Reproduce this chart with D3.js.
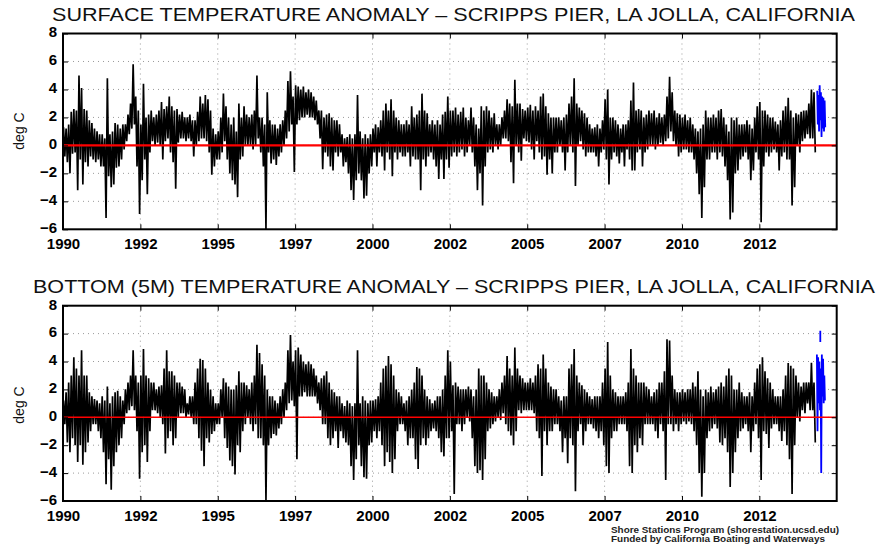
<!DOCTYPE html>
<html>
<head>
<meta charset="utf-8">
<script src="https://cdn.jsdelivr.net/npm/d3@7"></script>
<style>
  html, body { margin: 0; padding: 0; background: #fff; }
  svg { display: block; font-family: "Liberation Sans", Arial, Helvetica, sans-serif; }
</style>
</head>
<body>
<svg id="chart" width="881" height="545"></svg>
<script>
// ---------------- DATA ----------------
const startYear = 1990;
const xDomain = [1990, 2015];
const yDomain = [-6, 8];
const xTickValues = [1990, 1992.5, 1995, 1997.5, 2000, 2002.5, 2005, 2007.5, 2010, 2012.5];
const xTickLabels = ["1990", "1992", "1995", "1997", "2000", "2002", "2005", "2007", "2010", "2012"];
const yTickValues = [-6, -4, -2, 0, 2, 4, 6, 8];

// Surface anomaly: monthly upper / lower extent of daily values (deg C), Jan 1990 .. Apr 2014
const surfHi = [
  [1.3, 1.2, 1.5, 2.4, 2.6, 2.5, 5.0, 4.1, 2.6, 2.5, 1.8, 1.6],
  [1.2, 1.0, 0.8, 0.8, 0.5, 4.8, 0.8, 1.0, 1.6, 1.5, 1.2, 1.5],
  [1.5, 2.2, 3.0, 5.8, 3.5, 2.5, 1.5, 4.4, 2.0, 2.2, 2.5, 2.0],
  [2.2, 2.5, 3.1, 2.6, 2.8, 3.5, 2.8, 2.5, 2.6, 2.2, 2.4, 2.0],
  [2.0, 2.2, 1.8, 1.8, 2.4, 3.5, 3.0, 3.6, 3.3, 2.5, 1.2, 0.8],
  [1.0, 2.0, 3.7, 2.8, 2.0, 1.5, 2.0, 1.0, 3.0, 2.0, 2.8, 2.2],
  [2.0, 2.2, 2.5, 5.0, 2.0, 2.0, 1.5, 3.8, 1.8, 1.5, 1.5, 1.2],
  [1.5, 1.8, 2.5, 4.6, 5.3, 3.5, 4.3, 4.2, 4.0, 4.2, 3.8, 4.0],
  [3.8, 3.5, 3.2, 2.5, 2.5, 2.0, 2.2, 2.3, 2.0, 1.8, 1.8, 1.5],
  [0.8, 0.5, 0.6, 0.8, 0.5, 0.8, 3.6, 1.0, 0.5, 0.8, 0.5, 0.8],
  [1.2, 1.5, 1.3, 1.8, 2.5, 3.0, 2.5, 3.3, 2.5, 2.0, 1.8, 1.5],
  [1.5, 1.8, 1.5, 2.8, 2.0, 2.2, 2.5, 3.7, 2.5, 2.3, 1.5, 1.8],
  [1.5, 1.8, 1.5, 2.2, 2.4, 3.5, 2.5, 2.5, 2.7, 2.2, 2.4, 2.7],
  [2.0, 1.8, 2.7, 2.0, 1.5, 1.2, 2.8, 2.5, 2.8, 2.5, 2.0, 2.3],
  [1.5, 1.5, 2.0, 2.5, 3.3, 3.0, 2.8, 4.7, 3.0, 3.0, 2.6, 2.5],
  [2.7, 2.9, 2.5, 2.8, 2.5, 3.5, 3.7, 2.8, 2.3, 2.0, 2.0, 2.0],
  [2.0, 1.8, 2.0, 2.2, 3.0, 3.5, 4.8, 3.0, 2.7, 2.5, 2.3, 2.0],
  [1.5, 1.2, 1.3, 1.5, 1.2, 1.8, 3.3, 4.0, 2.0, 2.0, 1.8, 1.5],
  [1.2, 1.5, 1.5, 1.8, 3.2, 4.5, 2.5, 2.6, 2.5, 2.0, 2.2, 2.5],
  [2.3, 2.5, 2.0, 2.3, 2.0, 2.2, 3.5, 4.9, 3.8, 2.5, 2.3, 2.2],
  [2.0, 2.2, 1.8, 2.0, 1.5, 1.2, 1.0, 1.2, 1.5, 2.5, 2.0, 2.0],
  [2.2, 2.0, 2.5, 2.6, 2.0, 1.5, 1.0, 2.0, 1.8, 2.0, 1.5, 1.5],
  [1.5, 1.8, 1.5, 1.2, 2.0, 2.8, 3.1, 2.5, 2.5, 2.2, 2.0, 2.0],
  [1.7, 1.5, 1.8, 2.5, 2.8, 3.4, 2.5, 2.0, 2.3, 2.2, 2.4, 2.5],
  [2.5, 3.0, 4.0, 3.8]
];
const surfLo = [
  [-0.8, -1.2, -2.0, -0.6, -0.5, -3.2, -1.0, -2.8, -1.2, -1.5, -0.8, -1.0],
  [-1.2, -1.0, -1.5, -1.5, -5.2, -2.2, -3.0, -2.8, -1.6, -1.5, -1.0, -0.3],
  [0.3, 0.8, 1.2, 1.5, -1.5, -4.9, -2.5, -1.0, -3.5, -0.5, 0.3, 0.0],
  [0.2, 0.0, -1.0, 0.3, 0.5, -0.5, -1.2, -3.1, 0.2, 0.5, 0.5, 0.3],
  [0.5, 0.3, -0.8, 0.0, 0.3, 0.5, 0.5, 0.3, -0.5, -2.1, -1.5, -1.0],
  [-1.0, -0.5, 0.3, -1.0, -2.0, -2.5, -2.8, -3.7, -1.0, -0.8, 0.0, 0.0],
  [0.0, -0.3, 0.0, 0.5, -0.5, -1.5, -6.0, -0.5, -1.3, -1.0, -1.4, -0.8],
  [-0.5, 0.0, 0.5, 1.0, 1.5, -1.9, 1.5, 1.8, 2.0, 2.0, 2.2, 2.0],
  [2.0, 1.8, 1.5, 0.5, -1.7, -0.5, -0.8, -1.5, -1.8, -0.5, -0.8, -0.5],
  [-1.5, -1.2, -2.0, -3.2, -3.9, -2.5, -2.0, -2.5, -3.8, -3.6, -2.0, -1.5],
  [-0.5, -1.5, -0.5, -0.8, -1.8, -0.5, -1.0, -2.2, -0.5, -1.0, -0.5, -0.8],
  [-0.8, -0.5, -1.5, -0.8, -1.0, -1.0, -3.2, -1.0, -1.5, -0.8, -0.5, -1.0],
  [-1.5, -2.4, -1.0, -2.4, -1.0, -1.6, -0.8, -0.5, -0.8, -0.5, -0.3, -0.8],
  [-0.5, 0.0, -0.5, -1.5, -3.2, -2.0, -4.3, -1.5, -0.5, -0.3, -0.5, 0.0],
  [-0.3, 0.0, 0.5, 0.5, 0.3, -1.2, -2.7, 0.0, -0.5, -1.1, 0.5, 0.3],
  [0.2, -0.3, -1.0, 0.3, -0.5, -1.0, -0.8, -2.1, -1.0, -2.0, -0.5, -0.5],
  [0.0, -0.5, -1.8, -0.5, 0.0, -0.5, -2.9, 0.0, 0.3, -0.3, -0.8, -0.5],
  [-0.5, -0.5, -0.8, -1.5, -0.5, -0.3, -1.0, -2.8, -1.0, -0.5, -0.8, -1.3],
  [-0.5, -1.5, -0.3, -1.0, -1.8, -1.8, -0.5, -0.3, -1.5, -0.5, -0.3, 0.0],
  [0.0, -0.3, 0.0, 0.2, 0.0, 0.3, 0.5, 1.0, 0.3, 0.0, -0.8, -0.5],
  [-0.3, -0.3, -0.5, -0.5, -1.0, -2.0, -3.5, -5.2, -3.0, -1.0, -1.0, -0.5],
  [-0.5, -1.0, -0.5, -0.8, -1.5, -2.5, -5.3, -4.8, -2.0, -1.8, -1.0, -0.8],
  [-0.5, -1.0, -2.5, -1.8, -0.5, -1.0, -5.5, -1.5, -0.5, -0.8, -0.5, -0.3],
  [-0.5, -1.8, -0.8, -0.5, -1.0, -1.0, -4.3, -3.0, 0.0, -0.5, 0.3, 0.5],
  [0.8, 0.5, 0.5, -0.5]
];
// Surface: most recent (preliminary) data, drawn in blue
const surfRecentT = [2014.37, 2014.39, 2014.41, 2014.43, 2014.45, 2014.47, 2014.49, 2014.51, 2014.53, 2014.55, 2014.57, 2014.59, 2014.61, 2014.63];
const surfRecentV = [3.9, 1.5, 3.6, 1.0, 4.3, 1.8, 3.8, 0.6, 3.5, 1.2, 3.4, 1.0, 3.2, 1.3];

// Bottom (5 m) anomaly: monthly upper / lower extent of daily values (deg C)
const botHi = [
  [1.2, 1.8, 2.5, 3.0, 4.3, 3.5, 3.0, 4.8, 3.0, 3.0, 1.8, 1.5],
  [1.3, 1.2, 1.0, 1.5, 1.2, 2.2, 1.0, 1.5, 1.8, 1.9, 1.5, 1.2],
  [2.0, 2.5, 3.0, 4.8, 3.0, 2.5, 3.0, 4.9, 3.0, 2.8, 2.5, 2.5],
  [2.0, 2.2, 2.3, 3.5, 4.8, 3.3, 3.3, 3.0, 2.5, 2.5, 2.2, 2.0],
  [1.0, 1.5, 1.5, 2.5, 3.5, 4.2, 4.1, 3.5, 2.5, 2.0, 1.5, 1.0],
  [1.0, 2.0, 2.8, 2.5, 2.2, 2.0, 2.0, 2.3, 3.3, 2.5, 2.5, 2.3],
  [2.0, 2.5, 3.0, 5.2, 4.6, 3.8, 3.0, 2.0, 1.5, 1.5, 1.2, 1.0],
  [1.5, 2.0, 2.5, 4.8, 5.9, 4.0, 4.8, 5.0, 4.5, 4.0, 3.8, 4.0],
  [3.8, 3.5, 3.0, 2.5, 2.8, 3.0, 3.3, 2.5, 2.0, 1.8, 1.5, 1.5],
  [1.0, 0.8, 1.2, 1.0, 0.8, 1.0, 4.8, 1.0, 1.5, 1.2, 1.0, 1.2],
  [1.2, 1.3, 1.5, 2.5, 3.5, 3.7, 4.4, 3.8, 3.0, 2.0, 1.8, 1.5],
  [1.0, 1.2, 1.5, 2.0, 2.5, 3.6, 3.5, 3.0, 2.0, 1.5, 1.3, 1.0],
  [1.2, 1.5, 1.5, 2.0, 3.0, 4.8, 4.0, 2.3, 2.5, 2.2, 2.0, 2.0],
  [2.0, 2.2, 2.0, 1.5, 2.0, 3.5, 3.0, 3.0, 2.5, 2.0, 1.8, 1.5],
  [1.5, 2.0, 2.5, 3.0, 4.4, 3.5, 3.0, 5.0, 3.5, 3.0, 2.8, 2.5],
  [2.5, 2.8, 2.5, 3.0, 3.8, 3.5, 4.5, 3.5, 2.5, 2.2, 2.0, 2.0],
  [1.5, 1.2, 1.5, 1.5, 3.5, 3.8, 4.9, 3.0, 2.5, 2.3, 2.0, 1.8],
  [1.5, 1.3, 1.5, 1.5, 1.5, 2.5, 3.5, 5.4, 3.0, 2.0, 1.8, 1.5],
  [1.5, 1.5, 1.8, 2.5, 4.9, 3.5, 3.0, 2.5, 2.5, 2.5, 2.2, 2.0],
  [1.5, 1.8, 2.0, 2.5, 2.5, 3.3, 5.6, 5.5, 3.0, 2.0, 1.8, 1.8],
  [2.0, 1.8, 2.0, 2.0, 2.5, 2.2, 3.3, 2.0, 1.5, 2.0, 1.8, 2.2],
  [1.8, 2.0, 2.2, 2.5, 2.2, 3.0, 3.5, 3.0, 2.0, 2.0, 2.5, 1.8],
  [1.5, 1.5, 1.8, 1.5, 2.5, 3.5, 3.8, 4.3, 3.3, 2.8, 2.5, 2.0],
  [1.5, 1.5, 1.5, 2.0, 3.0, 3.9, 3.7, 3.5, 3.0, 2.5, 2.2, 2.5],
  [2.5, 2.5, 3.9, 2.5]
];
const botLo = [
  [-0.5, -1.8, -2.5, -1.5, -2.0, -3.2, -2.0, -3.4, -2.5, -1.8, -1.0, -0.5],
  [-0.5, -1.0, -1.5, -2.5, -4.8, -3.0, -5.2, -3.5, -2.5, -2.0, -1.5, -0.5],
  [0.3, 0.5, 0.8, 0.5, -1.0, -4.4, -2.5, -2.0, -3.2, -1.0, 0.5, 0.5],
  [0.3, 0.0, -0.5, -2.6, -1.5, -1.0, -2.0, -1.5, 0.0, 0.3, 0.3, 0.0],
  [0.2, 0.0, -0.5, -0.5, -1.5, -2.4, -3.5, -1.5, -1.8, -1.2, -1.0, -0.5],
  [-0.5, 0.0, -1.5, -2.2, -3.1, -3.5, -4.1, -2.0, -2.5, -1.0, -0.5, 0.0],
  [-0.5, -1.0, -0.5, -1.5, -1.5, -2.0, -6.0, -2.0, -1.5, -1.2, -1.3, -0.8],
  [-0.5, 0.0, 0.5, 1.0, 1.2, 0.8, -3.0, 1.5, 1.5, 1.8, 1.5, 1.5],
  [1.5, 1.5, 1.0, 0.5, -0.5, -0.5, -1.5, -2.0, -1.5, -1.0, -2.2, -1.0],
  [-1.5, -1.8, -2.0, -3.5, -4.5, -3.0, -2.0, -3.5, -4.3, -4.4, -2.0, -1.8],
  [-1.0, -1.5, -1.0, -2.0, -3.5, -2.5, -3.2, -4.0, -3.0, -1.0, -0.5, -0.5],
  [-1.0, -2.0, -1.5, -1.5, -3.0, -3.7, -2.0, -1.5, -2.0, -1.5, -1.0, -0.8],
  [-1.0, -1.5, -2.5, -2.8, -1.5, -1.5, -1.0, -5.5, -0.5, -0.5, -1.0, -0.5],
  [0.0, -0.3, -1.5, -3.5, -4.0, -3.8, -4.5, -3.0, -1.0, -0.8, -0.5, -0.3],
  [0.0, -0.2, 0.3, -0.5, -1.0, -1.3, -2.0, -1.0, 0.5, 0.3, 0.5, 0.5],
  [0.5, 0.5, 0.3, -1.0, -1.5, -4.2, -1.0, -2.0, -1.0, -1.0, -0.5, -0.5],
  [-1.0, -2.5, -1.5, -3.3, -1.5, -2.0, -5.3, -1.0, -0.5, -2.0, -1.0, -0.5],
  [-0.5, -0.8, -1.0, -1.5, -1.0, -2.0, -3.5, -4.0, -1.5, -1.0, -1.0, -0.5],
  [-0.5, -0.5, -1.0, -3.5, -4.0, -2.0, -2.5, -1.5, -2.0, -0.5, -0.5, -0.5],
  [-0.5, -1.0, -1.5, -0.5, -1.0, -4.5, -0.5, -0.5, -1.0, -0.5, -1.0, -0.5],
  [-0.3, -0.5, -0.3, -0.5, -1.0, -2.0, -4.0, -5.7, -4.0, -1.5, -1.0, -0.8],
  [-0.5, -0.8, -1.8, -2.0, -1.5, -2.5, -5.0, -4.0, -2.5, -1.5, -1.0, -0.8],
  [-0.5, -1.0, -2.5, -1.0, -0.5, -1.5, -4.5, -1.0, -1.2, -2.2, -0.8, -0.5],
  [-0.5, -1.0, -1.7, -1.0, -2.0, -3.0, -5.5, -2.0, 0.0, -0.3, 0.5, 0.3],
  [1.0, 0.5, 0.5, -1.8]
];
// Bottom: most recent (preliminary) data, drawn in blue (null = gap)
const botRecentT = [2014.36, 2014.38, 2014.40, 2014.42, 2014.44, 2014.46, 2014.48, 2014.50, 2014.52, 2014.54, 2014.56, 2014.58, 2014.60, 2014.62, 2014.62, 2014.47, 2014.47];
const botRecentV = [4.5, -1.0, 4.3, 1.0, 4.0, 0.5, 3.5, -4.0, 4.5, 1.5, 4.2, 1.0, 3.0, 1.2, null, 5.4, 6.2];

const titles = [
  "SURFACE TEMPERATURE ANOMALY \u2013 SCRIPPS PIER, LA JOLLA, CALIFORNIA",
  "BOTTOM (5M) TEMPERATURE ANOMALY \u2013 SCRIPPS PIER, LA JOLLA, CALIFORNIA"
];
const yLabel = "deg C";
const footer = ["Shore Stations Program (shorestation.ucsd.edu)", "Funded by California Boating and Waterways"];

// ---------------- DRAW ----------------
const svg = d3.select("#chart");
const left = 63, right = 836.7;

const panels = [
  { top: 33.5, bottom: 229.3, hi: surfHi, lo: surfLo, rt: surfRecentT, rv: surfRecentV,
    title: titles[0], titleX: 52, titleW: 803, titleY: 20.5, labelY: 131, zeroW: 2.2 },
  { top: 305.7, bottom: 501, hi: botHi, lo: botLo, rt: botRecentT, rv: botRecentV,
    title: titles[1], titleX: 33, titleW: 842, titleY: 292.5, labelY: 405, zeroW: 1.5 }
];

function zigzag(hi, lo) {
  const pts = [];
  hi.forEach((row, yi) => {
    row.forEach((h, m) => {
      const t0 = startYear + yi + m / 12;
      pts.push([t0 + 0.2 / 12, h]);
      pts.push([t0 + 0.7 / 12, lo[yi][m]]);
    });
  });
  return pts;
}

panels.forEach((p, pi) => {
  const x = d3.scaleLinear().domain(xDomain).range([left, right]);
  const y = d3.scaleLinear().domain(yDomain).range([p.bottom, p.top]);
  const g = svg.append("g");

  const clipId = "clip" + pi;
  svg.append("clipPath").attr("id", clipId).append("rect")
    .attr("x", left).attr("y", p.top).attr("width", right - left).attr("height", p.bottom - p.top);

  // grid
  const grid = g.append("g").attr("stroke", "#9a9a9a").attr("stroke-width", 1)
    .attr("stroke-dasharray", "1,4");
  grid.selectAll("line.vx").data(xTickValues.slice(1)).join("line")
    .attr("x1", d => x(d)).attr("x2", d => x(d)).attr("y1", p.top).attr("y2", p.bottom);
  grid.selectAll("line.hy").data(yTickValues.slice(1, -1)).join("line")
    .attr("x1", left).attr("x2", right).attr("y1", d => y(d)).attr("y2", d => y(d));

  // data
  const line = d3.line().defined(d => d[1] !== null).x(d => x(d[0])).y(d => y(d[1]));
  const dataG = g.append("g").attr("clip-path", `url(#${clipId})`);
  dataG.append("path").datum(zigzag(p.hi, p.lo))
    .attr("fill", "none").attr("stroke", "#000").attr("stroke-width", 1.7)
    .attr("stroke-linejoin", "bevel").attr("d", line);
  dataG.append("path").datum(p.rt.map((t, i) => [t, p.rv[i]]))
    .attr("fill", "none").attr("stroke", "#0000ff").attr("stroke-width", 1.8).attr("d", line);

  // zero line
  g.append("line").attr("x1", left).attr("x2", right).attr("y1", y(0)).attr("y2", y(0))
    .attr("stroke", "#ff0000").attr("stroke-width", p.zeroW);

  // axes
  const fmtY = d => (d < 0 ? "\u2212" + Math.abs(d) : String(d));
  const ax = g.append("g").attr("transform", `translate(0,${p.bottom})`)
    .call(d3.axisBottom(x).tickValues(xTickValues).tickFormat((d, i) => xTickLabels[i])
      .tickSizeInner(-5).tickSizeOuter(0).tickPadding(9.5));
  const ay = g.append("g").attr("transform", `translate(${left},0)`)
    .call(d3.axisLeft(y).tickValues(yTickValues).tickFormat(fmtY)
      .tickSizeInner(-5).tickSizeOuter(0).tickPadding(6));
  const at = g.append("g").attr("transform", `translate(0,${p.top})`)
    .call(d3.axisTop(x).tickValues(xTickValues).tickFormat("").tickSizeInner(-5).tickSizeOuter(0));
  const ar = g.append("g").attr("transform", `translate(${right},0)`)
    .call(d3.axisRight(y).tickValues(yTickValues).tickFormat("").tickSizeInner(-5).tickSizeOuter(0));
  [ax, ay, at, ar].forEach(a => {
    a.select(".domain").remove();
    a.selectAll(".tick line").attr("stroke", "#000").attr("stroke-width", 1);
    a.selectAll(".tick text").attr("fill", "#000")
      .style("font-family", "'Liberation Sans', Arial, Helvetica, sans-serif")
      .style("font-size", "15px").style("font-weight", "bold");
  });
  ay.selectAll(".tick text").attr("dy", "0.22em");

  // frame
  g.append("rect").attr("x", left).attr("y", p.top)
    .attr("width", right - left).attr("height", p.bottom - p.top)
    .attr("fill", "none").attr("stroke", "#000").attr("stroke-width", 2);

  // title
  svg.append("text").attr("x", p.titleX).attr("y", p.titleY)
    .attr("textLength", p.titleW).attr("lengthAdjust", "spacingAndGlyphs")
    .style("font-size", "18px").attr("fill", "#111").text(p.title);

  // y label
  svg.append("text").attr("transform", `translate(24,${p.labelY}) rotate(-90)`)
    .attr("text-anchor", "middle").style("font-size", "14px").attr("fill", "#111").text(yLabel);
});

// footer
svg.append("text").attr("x", 611).attr("y", 533).attr("textLength", 228)
  .attr("lengthAdjust", "spacingAndGlyphs").style("font-size", "9px").style("font-weight", "bold")
  .attr("fill", "#222").text(footer[0]);
svg.append("text").attr("x", 611).attr("y", 541.5).attr("textLength", 214)
  .attr("lengthAdjust", "spacingAndGlyphs").style("font-size", "9px").style("font-weight", "bold")
  .attr("fill", "#222").text(footer[1]);
</script>
</body>
</html>
